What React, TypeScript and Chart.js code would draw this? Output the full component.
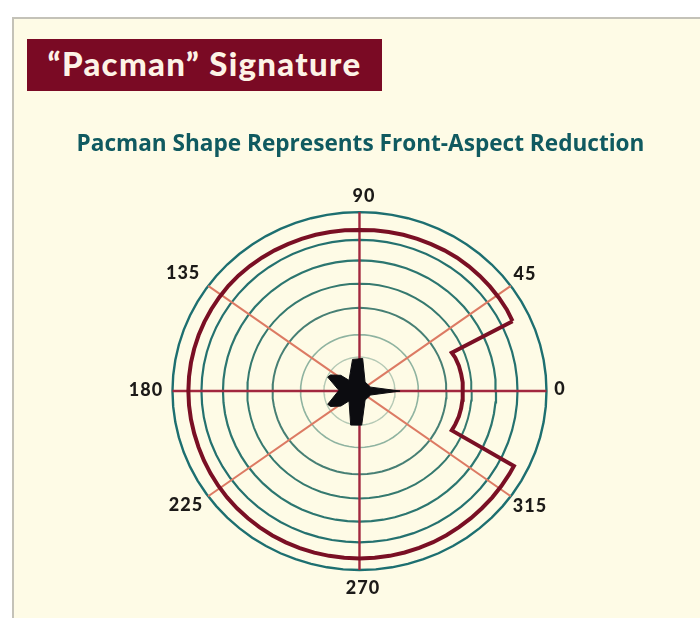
import React, { useEffect, useRef } from "react";
import { Chart, registerables } from "chart.js";

Chart.register(...registerables);

const bannerText = "\u201CPacman\u201D Signature";
const chartTitle = "Pacman Shape Represents Front-Aspect Reduction";

// Range rings, outermost first (outer ring = 100)
const ringRadii = [100, 84.5, 73, 60, 46.5, 31.5, 19];
const ringColors = ["#1d6f70", "#24716f", "#2c7670", "#35796f", "#477f74", "#8fb3a0", "#b5c9b5"];
const ringWidths = [2.4, 2.2, 2.2, 2, 2, 1.6, 1.4];
const ringAngles = [
  0, 5, 10, 15, 20, 25, 30, 35, 40, 45, 50, 55, 60, 65, 70, 75, 80, 85, 90, 95, 100, 105, 110, 115,
  120, 125, 130, 135, 140, 145, 150, 155, 160, 165, 170, 175, 180, 185, 190, 195, 200, 205, 210, 215,
  220, 225, 230, 235, 240, 245, 250, 255, 260, 265, 270, 275, 280, 285, 290, 295, 300, 305, 310, 315,
  320, 325, 330, 335, 340, 345, 350, 355, 360,
];

// Spokes: the artwork's diagonals sit at the drawn angle, labelled 45 / 135 / 225 / 315
const mainSpokes = [0, 90, 180, 270];
const diagonalSpokes = [36, 144, 216, 324];

// "Pacman" signature: angle in degrees, radius on the ring scale
const signatureAngles = [
  25.5, 30, 35, 40, 45, 50, 55, 60, 65, 70, 75, 80, 85, 90, 95, 100, 105, 110, 115, 120, 125, 130, 135,
  140, 145, 150, 155, 160, 165, 170, 175, 180, 185, 190, 195, 200, 205, 210, 215, 220, 225, 230, 235,
  240, 245, 250, 255, 260, 265, 270, 275, 280, 285, 290, 295, 300, 305, 310, 315, 320, 325, 330, 333.1,
  336, 340, 345, 350, 355, 360, 365, 370, 375, 380, 383.5, 385.5,
];
const signatureRadii = [
  90.7, 91, 91, 91, 91, 91, 91, 90.8, 90.6, 90.5, 90.4, 90.3, 90.2, 90, 90.2, 90.3, 90.4, 90.5, 90.6, 90.8, 91, 91.2, 91.4,
  91.5, 91.5, 91.5, 91.5, 91.5, 91.5, 91.5, 91.5, 91.5, 91.5, 91.5, 91.5, 91.6, 91.8, 92, 92.2, 92.4, 92.6, 92.8, 93,
  93.2, 93.3, 93.4, 93.5, 93.5, 93.5, 93.5, 93.5, 93.5, 93.4, 93.3, 93.2, 93, 92.8, 92.7, 92.6, 92.6, 92.6, 92.6, 92.6,
  54, 54.5, 55, 55.2, 55.3, 55.3, 55.3, 55.2, 55, 54.5, 53.8, 90.7,
];

// Aircraft silhouette, nose towards 0
const aircraftX = [21.7, 6, 3, 1.7, -3.7, -5.6, -10, -15.5, -17, -11, -17, -15.5, -10, -5.6, -4.7, 1.2, 3, 6, 21.7];
const aircraftY = [0, 2.2, 5, 18.2, 17.7, 6, 8.8, 9, 7.8, 0.4, -7.4, -8.6, -8.4, -5.5, -19, -19, -5, -2.2, 0];

// Bearing labels and where they sit on the chart's scales
const bearingLabels = ["90", "45", "0", "315", "270", "225", "180", "135"];
const bearingX = [2.4, 88.5, 107.2, 91.2, 1.9, -92.8, -114.2, -94.3];
const bearingY = [108.9, 65.4, 1.1, -64.2, -110, -63.7, 0.6, 65.9];

const polar = (deg: number, r: number) => ({
  x: r * Math.cos((deg * Math.PI) / 180),
  y: r * Math.sin((deg * Math.PI) / 180),
});

const bearingLabelPlugin = {
  id: "bearingLabels",
  afterDatasetsDraw(chart: any) {
    const idx = chart.data.datasets.findIndex((d: any) => d.label === "Bearings");
    const meta = chart.getDatasetMeta(idx);
    const { ctx } = chart;
    ctx.save();
    ctx.font = "900 18px Lato";
    ctx.fillStyle = "#1c1a18";
    ctx.textAlign = "center";
    ctx.textBaseline = "middle";
    (ctx as any).letterSpacing = "1px";
    meta.data.forEach((pt: any, i: number) => ctx.fillText(bearingLabels[i], pt.x, pt.y));
    ctx.restore();
  },
};

export default function App() {
  const ref = useRef<HTMLCanvasElement>(null);

  useEffect(() => {
    if (!ref.current) return;
    const line = { showLine: true, pointRadius: 0, fill: false, tension: 0 };
    const chart = new Chart(ref.current, {
      type: "scatter",
      data: {
        datasets: [
          {
            ...line,
            label: "Aircraft",
            data: aircraftX.map((x, i) => ({ x, y: aircraftY[i] })),
            borderColor: "#0c0c10",
            backgroundColor: "#0c0c10",
            borderWidth: 1,
            fill: "shape",
            order: 0,
          },
          {
            ...line,
            label: "Signature",
            data: signatureAngles.map((a, i) => polar(a, signatureRadii[i])),
            borderColor: "#7a0f24",
            borderWidth: 4,
            borderJoinStyle: "miter",
            order: 1,
          },
          ...mainSpokes.map((a) => ({
            ...line,
            label: `Spoke ${a}`,
            data: [polar(a, 0), polar(a, 100)],
            borderColor: "#a2283f",
            borderWidth: 2.4,
            order: 2,
          })),
          ...diagonalSpokes.map((a) => ({
            ...line,
            label: `Spoke ${a}`,
            data: [polar(a, 0), polar(a, 100)],
            borderColor: "#dc7a63",
            borderWidth: 2,
            order: 3,
          })),
          ...ringRadii.map((r, k) => ({
            ...line,
            label: `Ring ${r}`,
            data: ringAngles.map((a) => polar(a, r)),
            borderColor: ringColors[k],
            borderWidth: ringWidths[k],
            order: 4,
          })),
          {
            label: "Bearings",
            data: bearingX.map((x, i) => ({ x, y: bearingY[i] })),
            pointRadius: 0,
            showLine: false,
            order: 5,
          },
        ],
      } as any,
      options: {
        animation: false,
        responsive: false,
        layout: { padding: 0 },
        scales: {
          x: { type: "linear", display: false, min: -181, max: 182.09 },
          y: { type: "linear", display: false, min: -127.93, max: 120.67 },
        },
        plugins: {
          legend: { display: false },
          tooltip: { enabled: false },
          title: {
            display: true,
            text: chartTitle,
            color: "#105a60",
            font: { family: "Open Sans", size: 22.6, weight: "bold", lineHeight: 1.2 },
            padding: { top: 131, bottom: 17 },
          },
        },
      } as any,
      plugins: [bearingLabelPlugin],
    });
    return () => chart.destroy();
  }, []);

  return (
    <div style={{ position: "fixed", left: 0, top: 0, width: 700, height: 620, background: "#fff", overflow: "hidden" }}>
      <div
        style={{
          position: "absolute",
          left: 12,
          top: 17,
          width: 688,
          height: 601,
          boxSizing: "border-box",
          background: "#fefbe6",
          borderLeft: "2px solid #c4c2b8",
          borderTop: "2px solid #c4c2b8",
        }}
      />
      <div
        style={{
          position: "absolute",
          left: 27,
          top: 39,
          width: 355,
          height: 52,
          background: "#7a0a24",
          color: "#fdf3e6",
          font: "900 33px Lato",
          letterSpacing: "1.3px",
          lineHeight: "48px",
          textAlign: "center",
        }}
      >
        {bannerText}
      </div>
      <canvas
        ref={ref}
        width={679}
        height={620}
        style={{ position: "absolute", left: 21, top: 0, display: "block" }}
      />
    </div>
  );
}
